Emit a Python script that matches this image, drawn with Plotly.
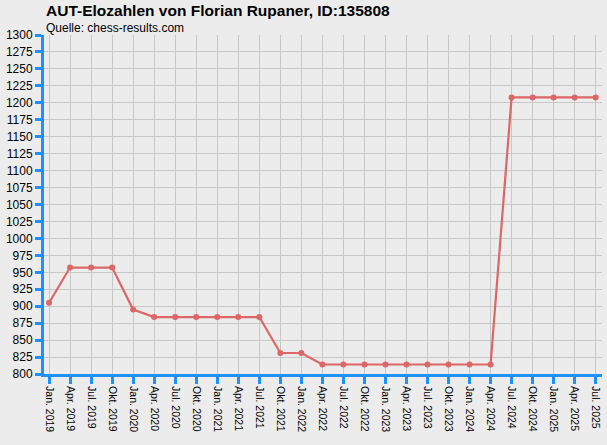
import plotly.graph_objects as go

months = ["Jan. 2019", "Apr. 2019", "Jul. 2019", "Okt. 2019",
          "Jan. 2020", "Apr. 2020", "Jul. 2020", "Okt. 2020",
          "Jan. 2021", "Apr. 2021", "Jul. 2021", "Okt. 2021",
          "Jan. 2022", "Apr. 2022", "Jul. 2022", "Okt. 2022",
          "Jan. 2023", "Apr. 2023", "Jul. 2023", "Okt. 2023",
          "Jan. 2024", "Apr. 2024", "Jul. 2024", "Okt. 2024",
          "Jan. 2025", "Apr. 2025", "Jul. 2025"]
elo = [905, 957, 957, 957,
       895, 884, 884, 884,
       884, 884, 884, 831,
       831, 814, 814, 814,
       814, 814, 814, 814,
       814, 814, 1208, 1208,
       1208, 1208, 1208]

axis_blue = "#1e90ff"
grid_grey = "#c8c8c8"
line_red = "#dd6666"

fig = go.Figure()
fig.add_trace(go.Scatter(
    x=months, y=elo, mode="lines+markers",
    line=dict(color=line_red, width=2.2),
    marker=dict(color=line_red, size=6),
    hoverinfo="x+y", showlegend=False,
))

fig.update_layout(
    width=607, height=445,
    margin=dict(l=44, r=5, t=35, b=71),
    paper_bgcolor="#ececec", plot_bgcolor="#ececec",
    font=dict(family="Liberation Sans, Arial, sans-serif", color="black"),
    annotations=[
        dict(text="<b>AUT-Elozahlen von Florian Rupaner, ID:135808</b>",
             xref="paper", yref="paper", x=0, y=1, xshift=0, yshift=35,
             xanchor="left", yanchor="top", showarrow=False,
             font=dict(size=15.5)),
        dict(text="Quelle: chess-results.com",
             xref="paper", yref="paper", x=0, y=1, xshift=0, yshift=16,
             xanchor="left", yanchor="top", showarrow=False,
             font=dict(size=12)),
    ],
)

fig.update_xaxes(
    type="category", range=[-0.24, 26.3], automargin=False,
    tickangle=90, tickfont=dict(size=10.5),
    showgrid=True, gridcolor=grid_grey, gridwidth=1,
    showline=True, linecolor=axis_blue, linewidth=3,
    ticks="outside", tickcolor=axis_blue, tickwidth=3, ticklen=7,
    zeroline=False, fixedrange=True,
)
fig.update_yaxes(
    range=[800, 1300], dtick=25, tick0=800, automargin=False,
    tickfont=dict(size=12),
    showgrid=True, gridcolor=grid_grey, gridwidth=1,
    showline=True, linecolor=axis_blue, linewidth=3,
    ticks="outside", tickcolor=axis_blue, tickwidth=3, ticklen=6,
    zeroline=False, fixedrange=True,
)

# drop the browser's default page margin so the figure fills the window
fig.write_html("out.html", config={"displayModeBar": False},
               post_script="document.body.style.margin = '0';")
